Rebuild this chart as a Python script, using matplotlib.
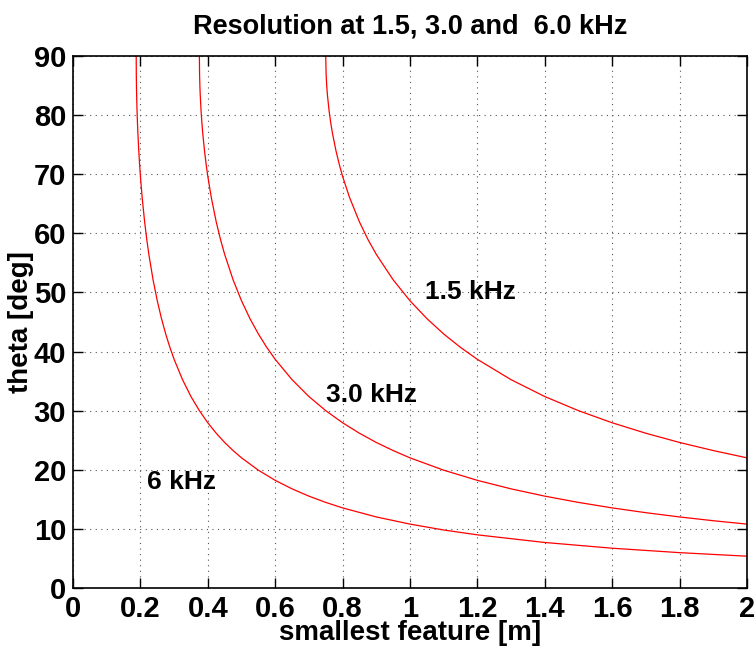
import matplotlib
matplotlib.use('Agg')
import matplotlib.pyplot as plt

# values (smallest feature [m] vs theta [deg])
x_15 = [0.75, 0.751, 0.753, 0.755, 0.76, 0.765, 0.77, 0.78, 0.79, 0.8, 0.82, 0.85, 0.875, 0.9,
        0.95, 1.0, 1.05, 1.1, 1.15, 1.2, 1.3, 1.4, 1.5, 1.6, 1.7, 1.8, 1.9, 2.0]
th_15 = [90.0, 87.04, 84.88, 83.40, 80.69, 78.63, 76.91, 74.06, 71.69, 69.64, 66.16, 61.93,
         58.99, 56.44, 52.14, 48.59, 45.58, 42.98, 40.70, 38.68, 35.24, 32.39, 30.0, 27.95,
         26.18, 24.62, 23.25, 22.02]

x_30 = [0.375, 0.3755, 0.3765, 0.3775, 0.38, 0.3825, 0.385, 0.39, 0.395, 0.4, 0.41, 0.425,
        0.4375, 0.45, 0.475, 0.5, 0.525, 0.55, 0.575, 0.6, 0.65, 0.7, 0.75, 0.8, 0.85, 0.9,
        0.95, 1.0, 1.1, 1.2, 1.3, 1.4, 1.5, 1.6, 1.7, 1.8, 1.9, 2.0]
th_30 = [90.0, 87.04, 84.88, 83.40, 80.69, 78.63, 76.91, 74.06, 71.69, 69.64, 66.16, 61.93,
         58.99, 56.44, 52.14, 48.59, 45.58, 42.98, 40.70, 38.68, 35.24, 32.39, 30.0, 27.95,
         26.18, 24.62, 23.25, 22.02, 19.93, 18.21, 16.77, 15.54, 14.48, 13.55, 12.74, 12.02,
         11.38, 10.81]

x_60 = [0.1875, 0.18775, 0.18825, 0.18875, 0.19, 0.19125, 0.1925, 0.195, 0.1975, 0.2, 0.205,
        0.2125, 0.21875, 0.225, 0.2375, 0.25, 0.2625, 0.275, 0.2875, 0.3, 0.325, 0.35, 0.375,
        0.4, 0.425, 0.45, 0.475, 0.5, 0.55, 0.6, 0.65, 0.7, 0.75, 0.8, 0.9, 1.0, 1.1, 1.2,
        1.4, 1.6, 1.8, 2.0]
th_60 = [90.0, 87.04, 84.88, 83.40, 80.69, 78.63, 76.91, 74.06, 71.69, 69.64, 66.16, 61.93,
         58.99, 56.44, 52.14, 48.59, 45.58, 42.98, 40.70, 38.68, 35.24, 32.39, 30.0, 27.95,
         26.18, 24.62, 23.25, 22.02, 19.93, 18.21, 16.77, 15.54, 14.48, 13.55, 12.02, 10.81,
         9.81, 8.99, 7.70, 6.73, 5.98, 5.38]

labels = ['1.5 kHz', '3.0 kHz', '6 kHz']
label_pos = [(1.045, 50.0), (0.75, 32.6), (0.22, 18)]

x_ticks = [0, 0.2, 0.4, 0.6, 0.8, 1, 1.2, 1.4, 1.6, 1.8, 2]
x_ticklabels = ['0', '0.2', '0.4', '0.6', '0.8', '1', '1.2', '1.4', '1.6', '1.8', '2']
y_ticks = [0, 10, 20, 30, 40, 50, 60, 70, 80, 90]

plt.rcParams['font.family'] = ['Liberation Sans', 'DejaVu Sans']
plt.rcParams['font.weight'] = 'bold'

fig = plt.figure(figsize=(7.56, 6.48), dpi=100)
ax = fig.add_axes([0.0966, 0.0926, 0.8914, 0.821])

for xs, ys in [(x_15, th_15), (x_30, th_30), (x_60, th_60)]:
    ax.plot(xs, ys, color='red', linewidth=0.9)

for lab, (lx, ly) in zip(labels, label_pos):
    ax.text(lx, ly, lab, fontsize=19, fontweight='bold', va='center', ha='left')

ax.set_xlim(0, 2)
ax.set_ylim(0, 90)
ax.set_xticks(x_ticks)
ax.set_xticklabels(x_ticklabels)
ax.set_yticks(y_ticks)
ax.tick_params(direction='in', length=7, width=1, top=True, right=True,
               labelsize=21, pad=5)
for lab in ax.get_xticklabels() + ax.get_yticklabels():
    lab.set_fontweight('bold')
for s in ax.spines.values():
    s.set_linewidth(1.2)

ax.grid(True, linestyle=(0, (1, 4)), color='#555555', linewidth=0.8)

ax.set_title('Resolution at 1.5, 3.0 and  6.0 kHz', fontsize=19.5, fontweight='bold', pad=16)
ax.set_xlabel('smallest feature [m]', fontsize=20, fontweight='bold', labelpad=-2)
ax.set_ylabel('theta [deg]', fontsize=20, fontweight='bold', labelpad=0)

fig.savefig('out.png', dpi=100)
